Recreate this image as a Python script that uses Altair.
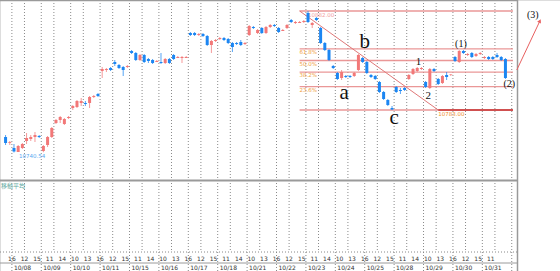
import altair as alt
import pandas as pd

# ---------------- data ----------------
bar_index = list(range(-2, 118))
open_ = [10756, 10750, 10745, 10741, 10745, 10752, 10754, 10756, 10757, 10742,
         10748, 10756, 10770, 10773, 10769, 10775, 10785, 10786, 10790, 10790,
         10790, 10796, 10799, 10822, 10823, 10825, 10831, 10828, 10826, 10826,
         10842, 10840, 10833, 10838, 10834, 10833, 10831, 10831, 10830, 10834,
         10838, 10835, 10835, 10835, 10860, 10860, 10858, 10859, 10857, 10848,
         10852, 10854, 10855, 10854, 10850, 10850, 10851, 10849, 10858, 10866,
         10860, 10865, 10860, 10866, 10868, 10865, 10862, 10865, 10873, 10870,
         10870, 10871, 10880, 10868, 10875, 10865, 10850, 10843, 10827, 10820,
         10815, 10817, 10817, 10817, 10823, 10835, 10831, 10818, 10817, 10811,
         10801, 10793, 10785, 10806, 10803, 10805, 10814, 10819, 10822, 10824,
         10811, 10805, 10824, 10814, 10810, 10818, 10818, 10836, 10831, 10842,
         10838, 10840, 10837, 10839, 10835, 10836, 10836, 10838, 10836, 10834]
high = [10758, 10752, 10749, 10748, 10750, 10760, 10758, 10761, 10758, 10748,
        10757, 10766, 10774, 10777, 10775, 10777, 10788, 10793, 10795, 10792,
        10797, 10798, 10800, 10826, 10825, 10826, 10833, 10829, 10827, 10828,
        10843, 10841, 10839, 10839, 10835, 10834, 10833, 10840, 10835, 10835,
        10839, 10837, 10837, 10837, 10861, 10861, 10860, 10860, 10858, 10853,
        10854, 10856, 10856, 10855, 10851, 10851, 10853, 10851, 10868, 10867,
        10864, 10866, 10867, 10869, 10869, 10866, 10864, 10869, 10874, 10872,
        10872, 10873, 10882, 10871, 10876, 10866, 10851, 10844, 10828, 10821,
        10823, 10818, 10818, 10821, 10839, 10836, 10832, 10819, 10818, 10812,
        10802, 10794, 10787, 10807, 10805, 10806, 10819, 10825, 10826, 10826,
        10812, 10825, 10825, 10815, 10818, 10821, 10819, 10837, 10843, 10843,
        10840, 10841, 10840, 10841, 10837, 10837, 10837, 10840, 10837, 10835]
low = [10748, 10748, 10740.54, 10741, 10744, 10749, 10752, 10751, 10755, 10740.8,
       10746, 10755, 10769, 10770, 10768, 10774, 10783, 10785, 10787, 10787,
       10785, 10795, 10796, 10815, 10821, 10822, 10827, 10824, 10817, 10825,
       10839, 10832, 10832, 10830, 10830, 10829, 10831, 10829, 10829, 10829,
       10833, 10835, 10830, 10835, 10857, 10857, 10857, 10856, 10847, 10840,
       10851, 10853, 10852, 10849, 10841, 10848, 10847, 10848, 10857, 10864,
       10859, 10859, 10859, 10865, 10866, 10860, 10862, 10864, 10870, 10869,
       10870, 10870, 10870, 10865, 10872, 10849, 10842, 10832, 10824, 10813,
       10813, 10815, 10815, 10816, 10822, 10830, 10819, 10815, 10813, 10800,
       10793, 10787, 10783, 10800, 10799, 10802, 10813, 10818, 10821, 10823,
       10805, 10804, 10821, 10808, 10809, 10813, 10817, 10831, 10830, 10839,
       10837, 10835, 10836, 10838, 10834, 10833, 10833, 10835, 10832, 10814]
close = [10750, 10750.8, 10741.5, 10747, 10749, 10755, 10756, 10758, 10756, 10747,
         10756, 10765, 10773, 10776, 10774, 10776, 10787, 10792, 10792, 10789,
         10796, 10797, 10797, 10824, 10824, 10823, 10829, 10825, 10823, 10827,
         10840, 10833, 10838, 10831, 10832, 10830, 10832, 10830, 10834, 10830,
         10834, 10836, 10836, 10836, 10858, 10858, 10859, 10857, 10848, 10852,
         10853, 10855, 10853, 10850, 10846, 10849, 10848, 10850, 10867, 10865,
         10863, 10860, 10866, 10868, 10867, 10861, 10863, 10868, 10871, 10871,
         10871, 10872, 10871, 10870, 10873, 10850, 10843, 10833, 10825, 10814,
         10821, 10816, 10816, 10820, 10838, 10831, 10820, 10816, 10814, 10801,
         10794, 10788, 10783.5, 10801, 10802, 10803, 10818, 10824, 10825, 10825,
         10806, 10824, 10822, 10809, 10817, 10816, 10818.5, 10832, 10842, 10840,
         10839, 10836, 10839, 10840, 10836, 10834, 10834, 10836, 10833, 10815]

dates = ["10/08", "10/09", "10/10", "10/11", "10/15", "10/16", "10/17", "10/18",
         "10/21", "10/22", "10/23", "10/24", "10/25", "10/28", "10/29", "10/30", "10/31"]
hour_labels = ["16", "12", "15", "11", "14", "10", "13",
               "16", "12", "15", "11", "14", "10", "13",
               "16", "12", "15", "11", "14", "10", "13",
               "16", "12", "15", "11", "14", "10", "13",
               "16", "12", "15", "11", "14", "10", "13",
               "16", "12", "15", "11"]
fib_ratios = [0.0, 0.236, 0.382, 0.5, 0.618, 1.0]
fib_names = ["", "23.6%", "38.2%", "50.0%", "61.8%", ""]
low_label = "10740.54"

wave_labels = ["a", "b", "c", "1", "2", "(1)", "(2)", "(3)"]
wave_x = [78.6, 83.5, 90.5, 96.3, 98.6, 106.4, 117.9, 123.5]
wave_y = [10800, 10851, 10775, 10831, 10797, 10849, 10809, 10878]
wave_size = [21, 21, 21, 11, 11, 10, 10, 10]

BARS_PER_DAY = 7
UP = "#F27878"
DOWN = "#1C86F2"
FIB = "#E88C8C"

X_DOM = [-2.137, 128.8]
Y_DOM = [10622, 10893]

# ---------------- frames ----------------
df = pd.DataFrame({"i": bar_index, "open": open_, "high": high, "low": low, "close": close})
df["dir"] = ["up" if c >= o else "down" for o, c in zip(open_, close)]

xs = alt.Scale(domain=X_DOM, nice=False, zero=False)
ys = alt.Scale(domain=Y_DOM, nice=False, zero=False)
color = alt.Color("dir:N", scale=alt.Scale(domain=["up", "down"], range=[UP, DOWN]), legend=None)

base = alt.Chart(df)
wick = base.mark_rule(strokeWidth=1, opacity=0.75).encode(
    x=alt.X("i:Q", scale=xs, axis=None),
    y=alt.Y("low:Q", scale=ys, axis=None),
    y2="high:Q",
    color=color,
)
body = base.mark_bar(size=3).encode(
    x=alt.X("i:Q", scale=xs, axis=None),
    y=alt.Y("open:Q", scale=ys, axis=None),
    y2="close:Q",
    color=color,
)

# vertical dotted grid: day boundaries and 12:00
n_days = len(dates)
grid_x = [BARS_PER_DAY * k - 0.5 for k in range(n_days + 1)] + \
         [BARS_PER_DAY * k + 2.5 for k in range(n_days)]
grid = alt.Chart(pd.DataFrame({"gx": grid_x})).mark_rule(
    color="#8a8a8a", strokeDash=[1, 2], strokeWidth=1
).encode(x=alt.X("gx:Q", scale=xs, axis=None), y=alt.value(0), y2=alt.value(252))

# frame lines
hlines = pd.DataFrame({"y": [0.5, 180.5, 263], "w": [1.5, 2, 1]})
frame_h = alt.Chart(hlines).mark_rule(color="#9a9a9a").encode(
    x=alt.value(0), x2=alt.value(517), y=alt.Y("y:Q", scale=None),
    strokeWidth=alt.StrokeWidth("w:Q", scale=None, legend=None)
)
axis_dot = alt.Chart(pd.DataFrame({"a": [0]})).mark_rule(color="#888", strokeDash=[1, 2]).encode(
    x=alt.value(0), x2=alt.value(517), y=alt.value(252)
)
frame_v = alt.Chart(pd.DataFrame({"a": [0]})).mark_rule(color="#9a9a9a", strokeWidth=1.5).encode(
    x=alt.value(517.5), y=alt.value(0), y2=alt.value(271)
)
day_sep = alt.Chart(pd.DataFrame({"gx": [BARS_PER_DAY * k - 0.5 for k in range(n_days + 1)]})).mark_rule(
    color="#888", strokeDash=[1, 2]
).encode(x=alt.X("gx:Q", scale=xs, axis=None), y=alt.value(252), y2=alt.value(271))

# Fibonacci levels
swing = df[df["i"] >= 60]
f_hi = float(swing["high"].max())
f_lo = float(swing["low"].min())
i_hi = int(swing.loc[swing["high"].idxmax(), "i"])
i_lo = int(swing.loc[swing["low"].idxmin(), "i"])
fib_start = i_hi - 2
fib_end = 118.8
fib_df = pd.DataFrame({
    "x0": fib_start, "x1": fib_end,
    "lvl": [f_lo + r * (f_hi - f_lo) for r in fib_ratios],
    "name": fib_names,
})
fib_lines = alt.Chart(fib_df).mark_rule(color=FIB, strokeWidth=1.3, opacity=0.9).encode(
    x=alt.X("x0:Q", scale=xs, axis=None), x2="x1:Q", y=alt.Y("lvl:Q", scale=ys, axis=None)
)
fib_text = alt.Chart(fib_df).mark_text(
    align="left", baseline="top", fontSize=5.5, color="#F0A040", dx=0, dy=1, font="DejaVu Sans"
).encode(x=alt.X("x0:Q", scale=xs, axis=None), y=alt.Y("lvl:Q", scale=ys, axis=None), text="name:N")

trend_end = i_lo + 11
trend_df = pd.DataFrame({"x": [fib_start, trend_end], "y": [f_hi, f_lo]})
trend = alt.Chart(trend_df).mark_line(color="#E07878", strokeWidth=1).encode(
    x=alt.X("x:Q", scale=xs, axis=None), y=alt.Y("y:Q", scale=ys, axis=None)
)
bottom_thick = alt.Chart(pd.DataFrame({"x0": [trend_end], "x1": [fib_end], "y": [f_lo]})).mark_rule(
    color="#D05050", strokeWidth=2
).encode(x=alt.X("x0:Q", scale=xs, axis=None), x2="x1:Q", y=alt.Y("y:Q", scale=ys, axis=None))

price_lbls = pd.DataFrame({
    "x": [i_hi, trend_end, 1.2],
    "y": [f_hi, f_lo, float(df["low"].min())],
    "t": [f"{f_hi:.2f}", f"{f_lo:.2f}", low_label],
    "c": ["#F2A0A0", "#F09030", "#5AA8F0"],
    "dy": [-1, 3, 3],
})
price_text = alt.Chart(price_lbls).mark_text(
    align="left", baseline="top", fontSize=5.5, font="DejaVu Sans", dy=2
).encode(
    x=alt.X("x:Q", scale=xs, axis=None), y=alt.Y("y:Q", scale=ys, axis=None), text="t:N",
    color=alt.Color("c:N", scale=None),
)

# wave labels
wave_df = pd.DataFrame({"t": wave_labels, "x": wave_x, "y": wave_y, "s": wave_size})
waves = alt.Chart(wave_df).mark_text(font="Liberation Serif", color="#111").encode(
    x=alt.X("x:Q", scale=xs, axis=None), y=alt.Y("y:Q", scale=ys, axis=None), text="t:N",
    size=alt.Size("s:Q", scale=None, legend=None),
)

arrow_df = pd.DataFrame({"x": [119.7, 125.2], "y": [10823, 10872]})
arrow = alt.Chart(arrow_df).mark_line(color="#E86060", strokeWidth=1).encode(
    x=alt.X("x:Q", scale=xs, axis=None), y=alt.Y("y:Q", scale=ys, axis=None)
)
arrow_head = alt.Chart(arrow_df.tail(1)).mark_point(
    shape="triangle-up", filled=True, size=18, angle=27, color="#E86060", opacity=1
).encode(x=alt.X("x:Q", scale=xs, axis=None), y=alt.Y("y:Q", scale=ys, axis=None))

# bottom axis labels
hour_pos = list(range(-1, -1 + 3 * len(hour_labels), 3))
hour_df = pd.DataFrame({"x": [p + 0.5 for p in hour_pos], "t": hour_labels})
hour_text = alt.Chart(hour_df).mark_text(fontSize=6, color="#333", font="DejaVu Sans", baseline="middle").encode(
    x=alt.X("x:Q", scale=xs, axis=None), y=alt.value(258.5), text="t:N"
)
date_df = pd.DataFrame({"x": [BARS_PER_DAY * k - 0.5 for k in range(n_days)], "t": dates})
date_text = alt.Chart(date_df).mark_text(
    fontSize=6, color="#333", font="DejaVu Sans", align="left", baseline="middle", dx=2
).encode(x=alt.X("x:Q", scale=xs, axis=None), y=alt.value(267.5), text="t:N")

ma_text = alt.Chart(pd.DataFrame({"t": ["移動平均"]})).mark_text(
    fontSize=6, color="#60A8A0", align="left", baseline="top", font="Noto Sans CJK JP"
).encode(x=alt.value(1), y=alt.value(183), text="t:N")

chart = alt.layer(
    grid, day_sep, frame_h, axis_dot, frame_v,
    fib_lines, bottom_thick, trend, fib_text, price_text,
    wick, body, waves, arrow, arrow_head, hour_text, date_text, ma_text,
).properties(
    width=560, height=271, padding=0, autosize=alt.AutoSizeParams(type="none")
).configure_view(stroke=None).configure(background="white")

chart.save("out.html", embed_options={"renderer": "svg", "actions": False})
